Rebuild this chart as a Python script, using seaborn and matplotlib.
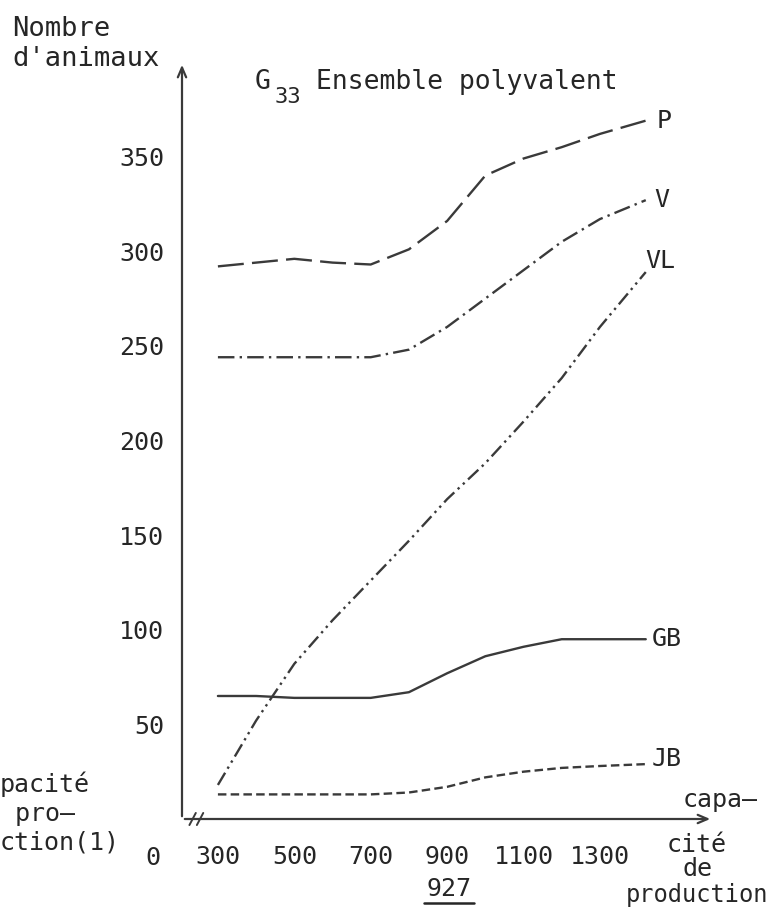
import pandas as pd
import matplotlib.pyplot as plt
import matplotlib.transforms as mtransforms
import seaborn as sns

# capacite de production (x) and number of animals per group
capacite = [300, 400, 500, 600, 700, 800, 900, 1000, 1100, 1200, 1300, 1420]
p_vals = [292, 294, 296, 294, 293, 301, 316, 340, 349, 355, 362, 369]
v_vals = [244, 244, 244, 244, 244, 248, 260, 275, 290, 305, 317, 327]
vl_vals = [18, 52, 82, 105, 126, 147, 169, 188, 210, 233, 260, 289]
gb_vals = [65, 65, 64, 64, 64, 67, 77, 86, 91, 95, 95, 95]
jb_vals = [13, 13, 13, 13, 13, 14, 17, 22, 25, 27, 28, 29]
series = ["P", "V", "VL", "GB", "JB"]

y_ticks = [50, 100, 150, 200, 250, 300, 350]
x_ticks = [300, 400, 500, 600, 700, 800, 900, 1000, 1100, 1200, 1300, 1400]
x_labels = ["300", "", "500", "", "700", "", "900", "", "1100", "", "1300", ""]

sns.set_style("white")
plt.rcParams["font.family"] = ["DejaVu Sans Mono", "DejaVu Sans"]
ink = "#3a3a3a"
txt = "#262626"

df = pd.DataFrame({
    "capacite": capacite * 5,
    "animaux": p_vals + v_vals + vl_vals + gb_vals + jb_vals,
    "serie": [s for s in series for _ in capacite],
})

fig = plt.figure(figsize=(7.7, 9.1), dpi=100)
ax = fig.add_axes([182 / 770, 91 / 910, 531 / 770, 757 / 910])

dash_styles = {
    "P": (11, 3.5),
    "V": (7, 2.2, 1, 2.2),
    "VL": (6, 2, 1, 2, 1, 2),
    "GB": "",
    "JB": (3.6, 1.8),
}
sns.lineplot(data=df, x="capacite", y="animaux", style="serie", dashes=dash_styles,
             color=ink, linewidth=1.7, legend=False, ax=ax)

ax.set_xlim(206, 1596)
ax.set_ylim(0, 400)
for s in ax.spines.values():
    s.set_visible(False)

# axes drawn as arrows
arrow = dict(arrowstyle="->,head_length=0.7,head_width=0.3", color=ink, lw=1.6)
ax.annotate("", xy=(1, 0), xytext=(0, 0), xycoords="axes fraction", arrowprops=arrow)
ax.annotate("", xy=(0, 1), xytext=(0, 0), xycoords="axes fraction", arrowprops=arrow)

ax.set_yticks(y_ticks)
ax.set_xticks(x_ticks)
ax.set_xticklabels(x_labels)
ax.set_xticks([927], minor=True)
ax.tick_params(axis="y", direction="out", length=5, width=1.2, color=ink,
               labelsize=18, labelcolor=txt, pad=8)
ax.tick_params(axis="x", which="both", direction="inout", length=8, width=1.2,
               color=ink, labelsize=18, labelcolor=txt, pad=15)
ax.set_xlabel("")
ax.set_ylabel("")

# axis break
for x0 in (0.014, 0.028):
    ax.plot([x0, x0 + 0.012], [-0.008, 0.008], color=ink, lw=1.4,
            transform=ax.transAxes, clip_on=False)

xt = mtransforms.blended_transform_factory(ax.transData, ax.transAxes)
ax.text(130, -0.052, "0", transform=xt, ha="center", va="center",
        fontsize=18, color=txt)
ax.text(905, -0.093, "927", transform=xt, ha="center", va="center",
        fontsize=18, color=txt)
ax.plot([840, 970], [-0.111, -0.111], color=txt, lw=1.8,
        transform=xt, clip_on=False)

# labels at line ends
ends = {"P": (p_vals[-1], 8, 0), "V": (v_vals[-1], 6, 0), "VL": (vl_vals[-1], 0, 8),
        "GB": (gb_vals[-1], 4, 0), "JB": (jb_vals[-1], 4, 4)}
for name, (val, dx, dy) in ends.items():
    ax.annotate(name, xy=(capacite[-1], val), xytext=(dx, dy), textcoords="offset points",
                ha="left", va="center", fontsize=18, color=txt)

fig.text(255 / 770, 1 - 82 / 910, "G", ha="left", va="center", fontsize=19, color=txt)
fig.text(275 / 770, 1 - 97 / 910, "33", ha="left", va="center", fontsize=16, color=txt)
fig.text(316 / 770, 1 - 82 / 910, "Ensemble polyvalent", ha="left", va="center",
         fontsize=19, color=txt)
fig.text(12 / 770, 1 - 44 / 910, "Nombre\nd'animaux", ha="left", va="center",
         fontsize=19.5, color=txt, linespacing=1.25)
fig.text(0, 1 - 813 / 910, "pacité\n pro–\nction(1)", ha="left", va="center",
         fontsize=18, color=txt, linespacing=1.25)
fig.text(683 / 770, 1 - 800 / 910, "capa–", ha="left", va="center",
         fontsize=18, color=txt)
fig.text(697 / 770, 1 - 857 / 910, "cité\nde", ha="center", va="center",
         fontsize=18, color=txt, linespacing=0.95)
fig.text(768 / 770, 1 - 895 / 910, "production", ha="right", va="center",
         fontsize=17, color=txt)

fig.savefig("out.png", dpi=100)
